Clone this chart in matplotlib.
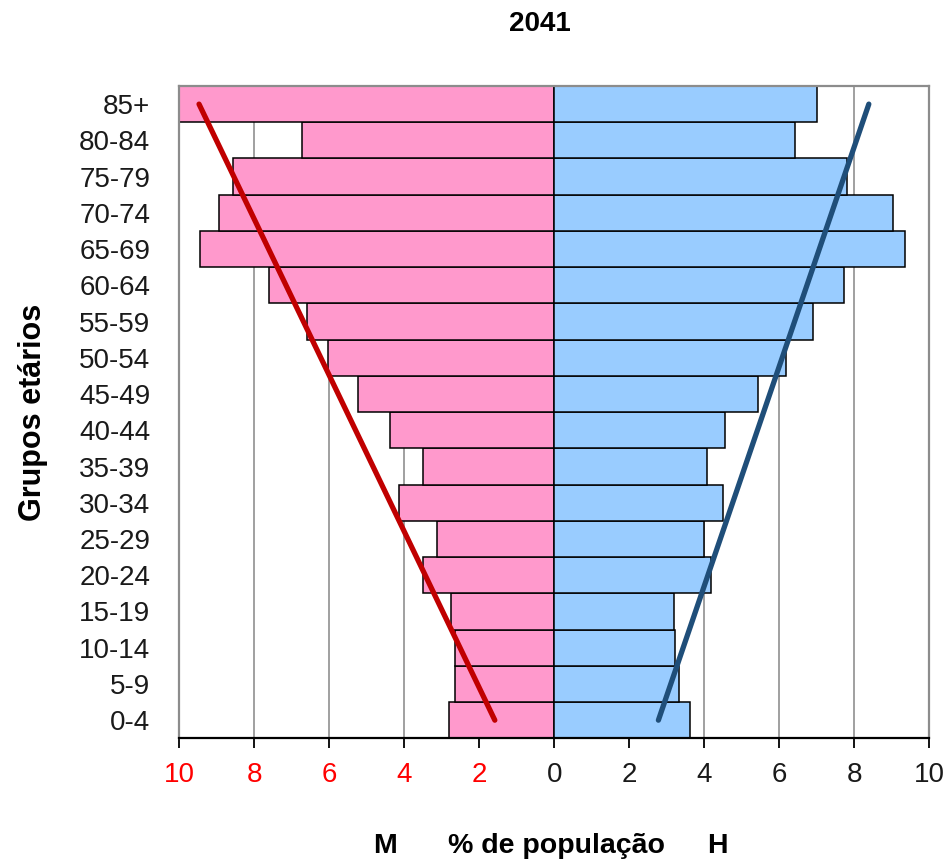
import matplotlib.pyplot as plt
import numpy as np

plt.rcParams['font.family'] = ['Liberation Sans', 'DejaVu Sans']

# grupos etarios, do mais novo ao mais velho
grupos = ['0-4', '5-9', '10-14', '15-19', '20-24', '25-29', '30-34', '35-39',
          '40-44', '45-49', '50-54', '55-59', '60-64', '65-69', '70-74',
          '75-79', '80-84', '85+']

# % de populacao, mulheres (M) e homens (H)
mulheres = [2.80, 2.65, 2.65, 2.75, 3.49, 3.13, 4.15, 3.49, 4.38,
            5.23, 6.03, 6.59, 7.62, 9.45, 8.93, 8.56, 6.74, 10.9]
homens = [3.61, 3.32, 3.23, 3.19, 4.18, 3.99, 4.50, 4.06, 4.55,
          5.43, 6.18, 6.89, 7.72, 9.36, 9.03, 7.81, 6.41, 7.01]

ticks = [-10, -8, -6, -4, -2, 0, 2, 4, 6, 8, 10]
tick_txt = ['10', '8', '6', '4', '2', '0', '2', '4', '6', '8', '10']

W, H = 948, 864
fig = plt.figure(figsize=(W / 100, H / 100), dpi=100)
x0, x1, y0, y1 = 179.3, 929.3, 86, 738.3
ax = fig.add_axes([x0 / W, 1 - y1 / H, (x1 - x0) / W, (y1 - y0) / H])

pos = np.arange(len(grupos))
ax.barh(pos, -np.array(mulheres), height=1.0, color='#ff99cc',
        edgecolor='black', linewidth=1.1, zorder=2)
ax.barh(pos, homens, height=1.0, color='#99ccff',
        edgecolor='black', linewidth=1.1, zorder=2)

# linhas de tendencia lineares
for vals, cor, sinal in [(mulheres, '#c00000', -1), (homens, '#1f4e79', 1)]:
    a, b = np.polyfit(pos, vals, 1)
    xs = pos[[0, -1]]
    ax.plot(sinal * (a * xs + b), xs, color=cor, lw=3.8,
            solid_capstyle='round', zorder=3)

ax.set_xlim(-10, 10)
ax.set_ylim(-0.5, len(grupos) - 0.5)
ax.set_yticks(pos)
ax.set_yticklabels(grupos, fontsize=20, color='#1a1a1a')
ax.tick_params(axis='y', length=0, pad=21)
ax.set_xticks(ticks)
ax.set_xticklabels(tick_txt, fontsize=20)
for lbl, t in zip(ax.get_xticklabels(), ticks):
    lbl.set_color('red' if t < 0 else '#1a1a1a')
ax.tick_params(axis='x', direction='out', length=7, width=1.3, pad=10,
               color='black')

ax.grid(axis='x', color='#999999', lw=1.3, zorder=0)
ax.set_axisbelow(True)
for lado in ['top', 'right', 'left']:
    ax.spines[lado].set_color('#8c8c8c')
    ax.spines[lado].set_linewidth(1.6)
ax.spines['bottom'].set_color('black')
ax.spines['bottom'].set_linewidth(1.6)

fig.text(540 / W, 1 - 24 / H, '2041', ha='center', va='center',
         fontsize=20, fontweight='bold')
fig.text(33 / W, 1 - 412 / H, 'Grupos etários', ha='center', va='center',
         rotation=90, fontsize=22, fontweight='bold')
fig.text(385 / W, 1 - 846 / H, 'M', ha='center', va='center',
         fontsize=20.5, fontweight='bold')
fig.text(556 / W, 1 - 846 / H, '% de população', ha='center', va='center',
         fontsize=20.5, fontweight='bold')
fig.text(717 / W, 1 - 846 / H, 'H', ha='center', va='center',
         fontsize=20.5, fontweight='bold')

fig.savefig('out.png', dpi=100)
